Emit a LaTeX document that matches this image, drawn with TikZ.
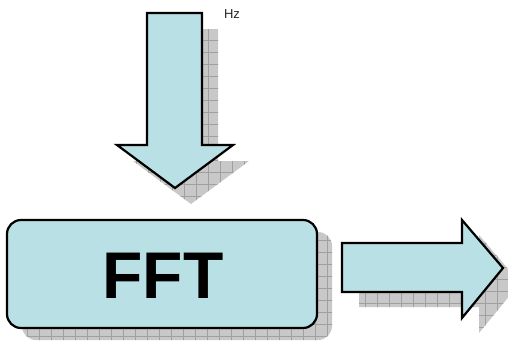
\documentclass[tikz,border=0pt]{standalone}
\usepackage{fontspec}
\setmainfont{Liberation Sans}
\begin{document}
\begin{tikzpicture}[x=1pt,y=-1pt]
\definecolor{boxfill}{RGB}{185,224,228}
\definecolor{shadefill}{RGB}{200,200,200}
\definecolor{shadegrid}{RGB}{160,160,160}
\tikzset{
  blockshape/.style={draw=black,line width=2.2pt,fill=boxfill,line join=miter},
  shadefillstyle/.style={fill=shadefill},
}
\useasboundingbox (0,0) rectangle (508,340);
\def\downarrowpath{(147,13) -- (202,13) -- (202,145) -- (233,145) -- (175,188) -- (117,145) -- (147,145) -- cycle}
\def\rightarrowpath{(342,243) -- (462,243) -- (462,220) -- (503,268) -- (462,318) -- (462,292) -- (342,292) -- cycle}
% shadows
\begin{scope}[shift={(16,16)}]
  \fill[shadefillstyle] \downarrowpath;
  \begin{scope}
    \clip \downarrowpath;
    \draw[shadegrid,line width=0.5pt,step=12pt] (100,0) grid (260,200);
  \end{scope}
\end{scope}
\begin{scope}[shift={(15,12)}]
  \fill[shadefillstyle,rounded corners=14pt] (7,220) rectangle (317,328);
  \begin{scope}
    \clip[rounded corners=14pt] (7,220) rectangle (317,328);
    \draw[shadegrid,line width=0.5pt,step=12pt] (0,200) grid (340,340);
  \end{scope}
\end{scope}
\begin{scope}[shift={(17,15)}]
  \fill[shadefillstyle] \rightarrowpath;
  \begin{scope}
    \clip \rightarrowpath;
    \draw[shadegrid,line width=0.5pt,step=12pt] (330,200) grid (520,340);
  \end{scope}
\end{scope}
% shapes
\draw[blockshape] \downarrowpath;
\draw[blockshape,rounded corners=14pt] (7,220) rectangle (317,328);
\draw[blockshape] \rightarrowpath;
\node[font=\bfseries\fontsize{66}{66}\selectfont,inner sep=0pt] (fft) at (163,276) {FFT};
\node[font=\fontsize{13}{15}\selectfont,text=black!85,inner sep=0pt] (hz) at (232,14) {Hz};
\end{tikzpicture}
\end{document}
